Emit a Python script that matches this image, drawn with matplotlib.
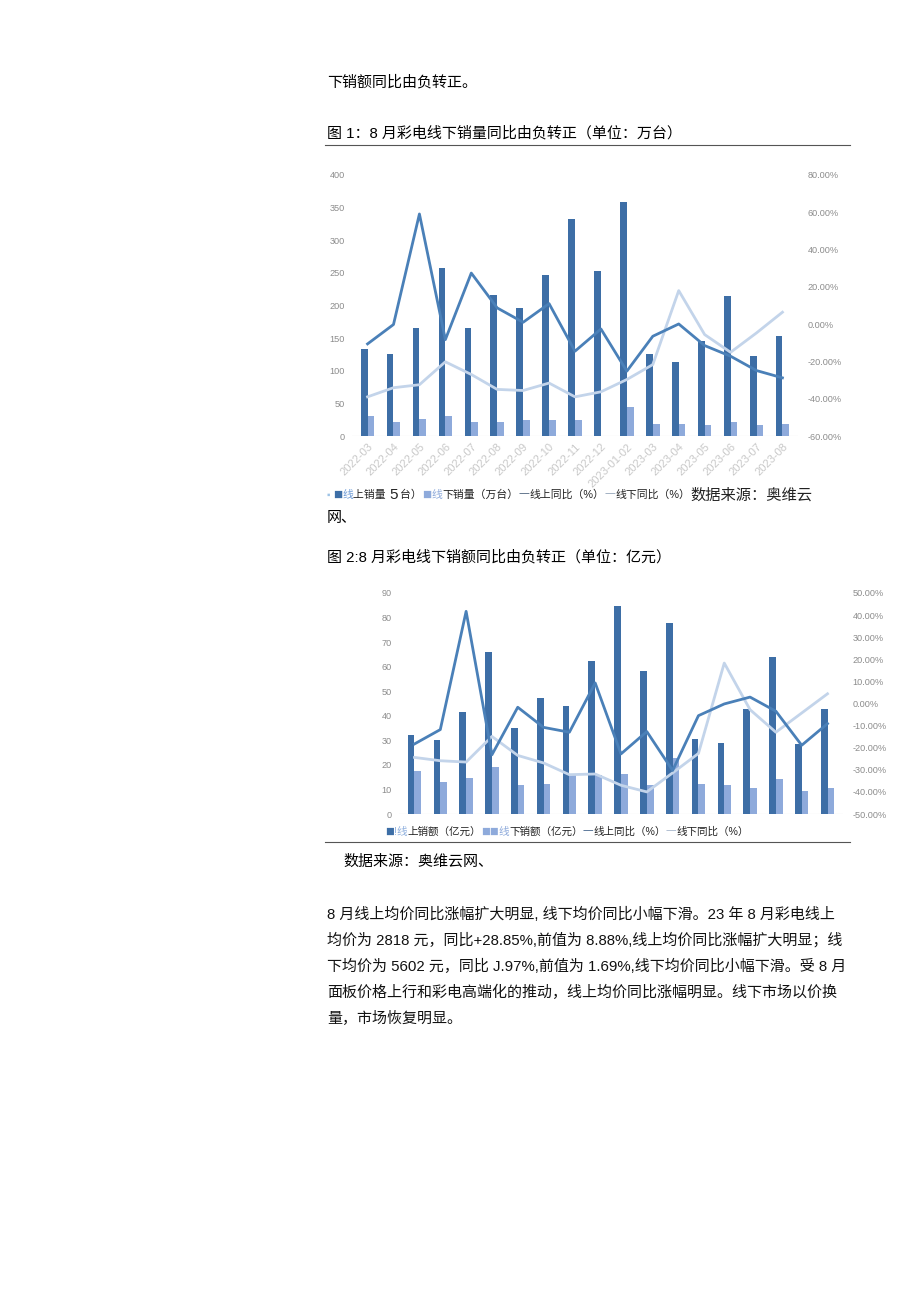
import matplotlib
matplotlib.use('Agg')
import matplotlib.pyplot as plt
from matplotlib.ticker import FuncFormatter
import numpy as np

plt.rcParams['font.family'] = ['Liberation Sans', 'Noto Sans CJK SC', 'DejaVu Sans']

W, H = 920, 1301

# ---- data: chart 1 (sales volume, 万台) ----
months1 = ['2022-03', '2022-04', '2022-05', '2022-06', '2022-07', '2022-08',
           '2022-09', '2022-10', '2022-11', '2022-12', '2023-01-02', '2023-03',
           '2023-04', '2023-05', '2023-06', '2023-07', '2023-08']
online_vol = [134, 126, 166, 258, 165, 216, 196, 247, 333, 253, 358, 125,
              114, 146, 215, 122, 153]
offline_vol = [30, 22, 26, 31, 21, 21, 25, 25, 24, 0, 44, 19, 19, 17, 21, 17, 18]
online_vol_yoy = [-10.6, -0.2, 59.1, -8.3, 27.4, 8.7, 1.0, 11.0, -14.5, -2.6,
                  -25.2, -6.5, 0.1, -11.5, -17.2, -24.9, -28.8]
offline_vol_yoy = [-39.0, -34.1, -32.5, -20.2, -27.0, -35.0, -35.6, -31.6, -39.0,
                   -36.3, -29.7, -21.7, 18.0, -5.6, -15.1, -4.7, 6.4]

# ---- data: chart 2 (sales value, 亿元) ----
online_amt = [32.3, 30.1, 41.5, 66.0, 35.2, 47.1, 44.0, 62.4, 84.8, 58.4, 77.8,
              30.5, 28.9, 42.8, 63.8, 28.4, 42.9]
offline_amt = [17.4, 13.0, 14.7, 19.1, 11.7, 12.1, 15.7, 16.0, 16.2, 11.7, 22.8,
               12.1, 11.7, 10.5, 14.1, 9.4, 10.6]
online_amt_yoy = [-18.3, -11.8, 41.7, -23.2, -1.7, -10.8, -13.0, 9.3, -22.8,
                  -12.7, -30.3, -5.5, -0.2, 2.9, -3.5, -18.9, -9.1]
offline_amt_yoy = [-24.4, -25.9, -26.5, -14.9, -23.5, -26.9, -32.2, -31.9, -37.0,
                   -40.0, -31.4, -22.6, 18.3, -2.8, -13.0, -4.3, 4.4]

DARK = '#3d6ea6'
LIGHT = '#8eaadb'
LINE_ON = '#4a80b8'
LINE_OFF = '#c3d4ea'
GRAY = '#8c8c8c'


def px_axes(fig, left, right, top, bottom):
    return fig.add_axes([left / W, 1 - bottom / H, (right - left) / W, (bottom - top) / H])


def fig_text(fig, x, y, s, size=10.8, **kw):
    return fig.text(x / W, 1 - y / H, s, fontsize=size, va='center', **kw)


def draw_runs(fig, x, y, runs):
    renderer = fig.canvas.get_renderer()
    for s, color, size in runs:
        t = fig_text(fig, x, y, s, size=size, color=color, ha='left')
        x += t.get_window_extent(renderer).width


def combo_chart(ax, cats, bar1, bar2, yoy1, yoy2, ylim, yticks, rlim, rticks):
    x = np.arange(len(cats))
    w = 0.26
    ax.bar(x - w / 2, bar1, width=w, color=DARK, zorder=2)
    ax.bar(x + w / 2, bar2, width=w, color=LIGHT, zorder=2)
    ax.set_xlim(-0.6, len(cats) - 0.4)
    ax.set_ylim(*ylim)
    ax.set_yticks(yticks)
    ax.axhline(0, color='#d9d9d9', lw=0.8, zorder=1)
    ax2 = ax.twinx()
    ax2.plot(x, yoy2, color=LINE_OFF, lw=2.0, zorder=3)
    ax2.plot(x, yoy1, color=LINE_ON, lw=2.0, zorder=4)
    ax2.set_ylim(*rlim)
    ax2.set_yticks(rticks)
    ax2.yaxis.set_major_formatter(FuncFormatter(lambda v, p: '%.2f%%' % v))
    for a in (ax, ax2):
        for sp in a.spines.values():
            sp.set_visible(False)
        a.tick_params(length=0, labelsize=6.6, labelcolor=GRAY)
    ax.tick_params(axis='y', pad=5)
    ax2.tick_params(axis='y', pad=7)
    return ax2


fig = plt.figure(figsize=(W / 100, H / 100), dpi=100)

fig_text(fig, 327, 82, '下销额同比由负转正。')
fig_text(fig, 327, 133, '图 1：8 月彩电线下销量同比由负转正（单位：万台）')
fig.add_artist(plt.Line2D([325 / W, 850 / W], [1 - 145 / H, 1 - 145 / H],
                          color='#555555', lw=0.8))

# chart 1
ax1 = px_axes(fig, 352, 798, 175, 436)
combo_chart(ax1, months1, online_vol, offline_vol, online_vol_yoy, offline_vol_yoy,
            (0, 400), range(0, 401, 50), (-60, 80), range(-60, 81, 20))
ax1.set_xticks(np.arange(len(months1)))
ax1.set_xticklabels(months1, rotation=45, ha='right', rotation_mode='anchor',
                    fontsize=8, color='#c8c8c8')
ax1.tick_params(axis='x', pad=4)

draw_runs(fig, 327, 495, [
    ('▪ ', '#9dc3e6', 7), ('■', DARK, 11), ('线', '#6d9bd6', 7.8),
    ('上销量 ', '#222222', 7.8), ('5', '#222222', 11), (' 台）', '#222222', 7.8),
    ('■', LIGHT, 11), ('线', LIGHT, 7.8), ('下销量（万台）', '#222222', 7.8),
    ('一', '#5a6e86', 7.8), ('线上同比（%）', '#222222', 7.8),
    ('一', '#9aaabd', 7.8), ('线下同比（%）', '#222222', 7.8),
    ('数据来源：奥维云', '#222222', 11),
])
fig_text(fig, 327, 518, '网、')

fig_text(fig, 327, 557, '图 2:8 月彩电线下销额同比由负转正（单位：亿元）')

# chart 2
ax3 = px_axes(fig, 399, 843, 593, 814)
combo_chart(ax3, months1, online_amt, offline_amt, online_amt_yoy, offline_amt_yoy,
            (0, 90), range(0, 91, 10), (-50, 50), range(-50, 51, 10))
ax3.set_xticks([])

draw_runs(fig, 385, 832, [
    ('■', DARK, 10.5), ('!线', '#8fb0de', 7.6), ('上销额（亿元）', '#222222', 7.6),
    ('■■', LIGHT, 10.5), ('线', LIGHT, 7.6), ('下销额（亿元）', '#222222', 7.6),
    ('一', '#4a6a90', 7.6), ('线上同比（%）', '#222222', 7.6),
    ('一', '#a8b8cc', 7.6), ('线下同比（%）', '#222222', 7.6),
])
fig.add_artist(plt.Line2D([325 / W, 850 / W], [1 - 842 / H, 1 - 842 / H],
                          color='#555555', lw=0.8))
fig_text(fig, 343, 862, '数据来源：奥维云网、')

para = [
    '8 月线上均价同比涨幅扩大明显, 线下均价同比小幅下滑。23 年 8 月彩电线上',
    '均价为 2818 元，同比+28.85%,前值为 8.88%,线上均价同比涨幅扩大明显；线',
    '下均价为 5602 元，同比 J.97%,前值为 1.69%,线下均价同比小幅下滑。受 8 月',
    '面板价格上行和彩电高端化的推动，线上均价同比涨幅明显。线下市场以价换',
    '量，市场恢复明显。',
]
for i, line in enumerate(para):
    fig_text(fig, 327, 914 + 26 * i, line, color='#111111')

fig.savefig('out.png', dpi=100)
